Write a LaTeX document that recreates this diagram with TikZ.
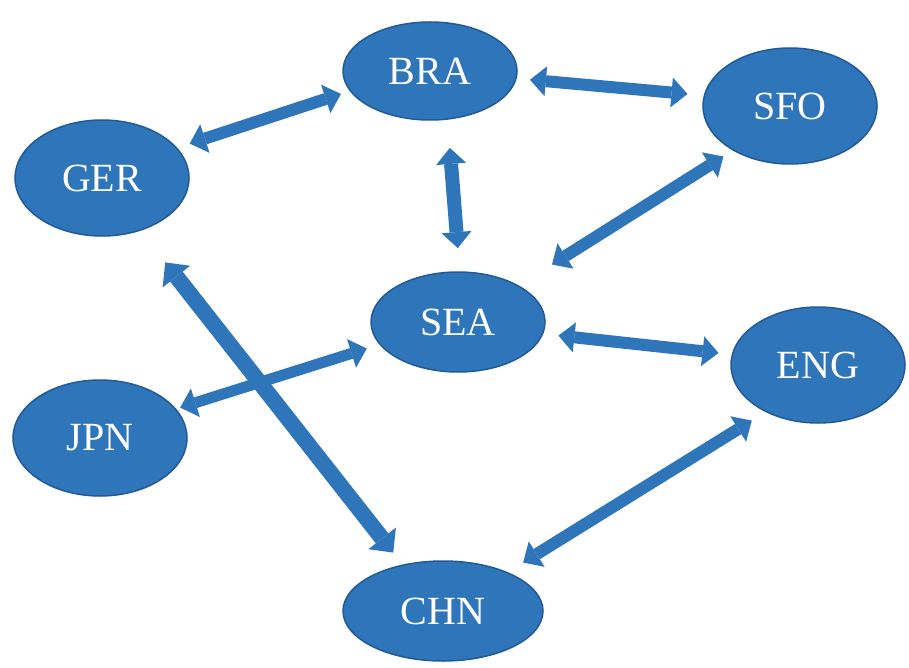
\documentclass[tikz,border=0pt]{standalone}
\usepackage{fontspec}
\setmainfont{Liberation Serif}
\usetikzlibrary{shapes.geometric,arrows.meta}
\definecolor{cityblue}{RGB}{46,117,186}
\definecolor{cityedge}{RGB}{34,90,150}
\tikzset{
  city/.style={ellipse, draw=cityedge, fill=cityblue, line width=1.5pt,
    inner sep=0pt, outer sep=0pt, minimum width=174pt, minimum height=116pt,
    text=white, font=\fontsize{40}{42}\selectfont},
  link/.style={draw=cityblue, line width=12pt,
    {Triangle[width=30pt,length=16pt,line width=0pt]}-{Triangle[width=30pt,length=16pt,line width=0pt]}},
}
\begin{document}
\begin{tikzpicture}[x=1pt,y=1pt,yscale=-1,xscale=1]
  \useasboundingbox[fill=white] (0,0) rectangle (909,668);
  %Shape: Ellipse [cities]
  \node[city, minimum height=98pt] (bra) at (430,71) {BRA};
  \node[city] (sfo) at (790,106) {SFO};
  \node[city] (ger) at (102,178) {GER};
  \node[city, minimum height=100pt] (sea) at (458,322) {SEA};
  \node[city] (eng) at (818,365) {ENG};
  \node[city] (jpn) at (100,438) {JPN};
  \node[city, minimum width=200pt, minimum height=100pt] (chn) at (443,611) {CHN};

  %Double Arrows
  \draw[link, shorten <=14pt, shorten >=10pt] (ger.22) -- (bra.194);
  \draw[link, shorten <=14pt, shorten >=17pt] (bra.-5) -- (sfo.173);
  \draw[link, line width=14pt, shorten <=29pt, shorten >=24pt] (bra.-70) -- (sea.88);
  \draw[link, shorten <=12pt, shorten >=40pt] (sfo.218) -- (sea.31);
  \draw[link, shorten <=16pt, shorten >=14pt] (sea.-8) -- (eng.173);
  \draw[link, line width=11pt, shorten <=14pt, shorten >=5pt] (sea.196) -- (jpn.21);
  \draw[link, line width=16pt, shorten <=41pt, shorten >=16pt,
    {Triangle[width=35pt,length=18pt,line width=0pt]}-{Triangle[width=35pt,length=18pt,line width=0pt]}] (ger.-54) -- (chn.131);
  \draw[link, shorten <=17pt, shorten >=19pt] (eng.222) -- (chn.31);
\end{tikzpicture}
\end{document}
